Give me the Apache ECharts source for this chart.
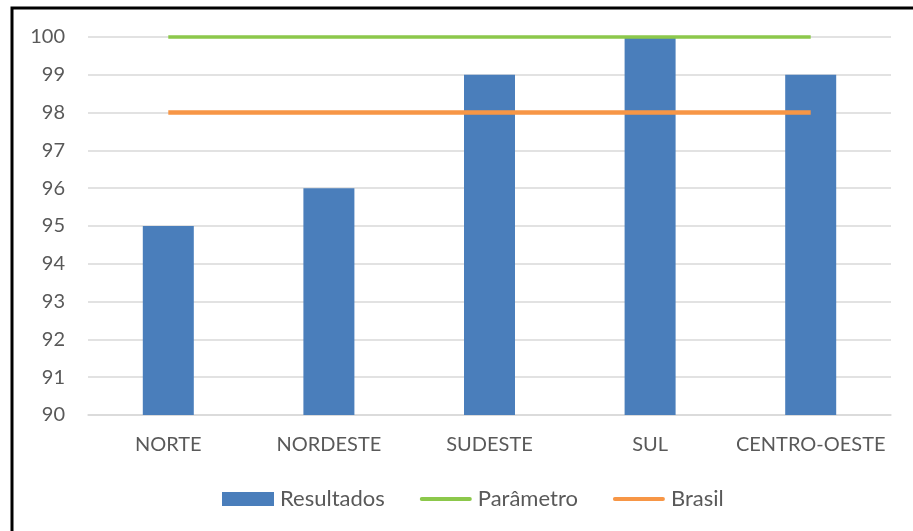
<!DOCTYPE html>
<html>
<head>
<meta charset="utf-8">
<script src="https://cdn.jsdelivr.net/npm/echarts@6/dist/echarts.min.js"></script>
<style>
  html, body { margin: 0; padding: 0; background: #fff; }
  #chart { width: 913px; height: 531px; }
</style>
</head>
<body>
<div id="chart"></div>
<script>
// Regions and their results
const regioes = ['NORTE', 'NORDESTE', 'SUDESTE', 'SUL', 'CENTRO-OESTE'];
const resultados = [95, 96, 99, 100, 99];
const parametro = [100, 100, 100, 100, 100];
const brasil = [98, 98, 98, 98, 98];
const yTicks = { min: 90, max: 100, interval: 1 };

const FONT = 'Lato';
const LINE_ICON = 'path://M2,0 L52,0 A2,2 0 0 1 52,4 L2,4 A2,2 0 0 1 2,0 Z';
const chart = echarts.init(document.getElementById('chart'));

chart.setOption({
  animation: false,
  backgroundColor: '#ffffff',
  textStyle: { fontFamily: FONT },
  graphic: [{
    type: 'rect',
    shape: { x: 12, y: 8, width: 920, height: 540 },
    style: { fill: 'none', stroke: '#000', lineWidth: 3 },
    silent: true,
    z: 100
  }],
  grid: { left: 88, right: 22, top: 37, bottom: 116, containLabel: false },
  legend: {
    bottom: 16,
    left: 217,
    itemWidth: 52,
    itemHeight: 14,
    itemGap: 35,
    textStyle: { fontFamily: FONT, fontSize: 22, color: '#595959', padding: [0, 0, 0, 1] },
    data: [
      { name: 'Resultados', icon: 'rect' },
      { name: 'Parâmetro', icon: LINE_ICON },
      { name: 'Brasil', icon: LINE_ICON }
    ]
  },
  xAxis: {
    type: 'category',
    data: regioes,
    axisTick: { show: false },
    axisLine: { lineStyle: { color: '#d9d9d9', width: 1.5 } },
    axisLabel: { color: '#595959', fontSize: 20, fontFamily: FONT, margin: 20, interval: 0 }
  },
  yAxis: {
    type: 'value',
    min: yTicks.min,
    max: yTicks.max,
    interval: yTicks.interval,
    axisLine: { show: false },
    axisTick: { show: false },
    splitLine: { lineStyle: { color: '#d9d9d9', width: 1.5 } },
    axisLabel: { color: '#595959', fontSize: 20, fontFamily: FONT, margin: 23 }
  },
  series: [
    {
      name: 'Resultados',
      type: 'bar',
      data: resultados,
      barWidth: 51,
      itemStyle: { color: '#4a7ebb' }
    },
    {
      name: 'Parâmetro',
      type: 'line',
      data: parametro,
      symbol: 'none',
      clip: false,
      lineStyle: { color: '#8cc84b', width: 3.5 },
      itemStyle: { color: '#8cc84b' },
      z: 3
    },
    {
      name: 'Brasil',
      type: 'line',
      data: brasil,
      symbol: 'none',
      clip: false,
      lineStyle: { color: '#f79646', width: 4.5 },
      itemStyle: { color: '#f79646' },
      z: 3
    }
  ]
});
</script>
</body>
</html>
